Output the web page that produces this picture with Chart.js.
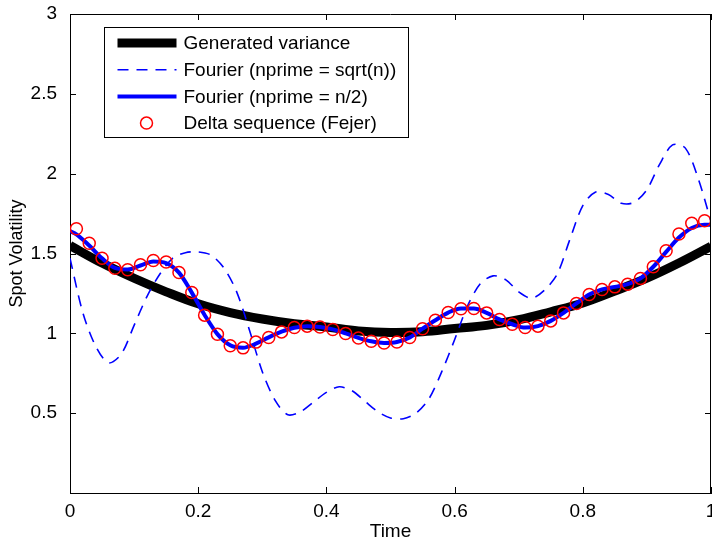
<!DOCTYPE html>
<html lang="en">
<head>
    <meta charset="UTF-8">
    <title>Spot Volatility</title>
    <script src="https://cdn.jsdelivr.net/npm/chart.js"></script>
    <style>
        html, body {
            margin: 0;
            padding: 0;
            background: #ffffff;
        }
        #chartContainer {
            width: 712px;
            height: 541px;
        }
    </style>
</head>
<body>
    <div id="chartContainer">
        <canvas id="myChart" width="712" height="541"></canvas>
    </div>

    <script>
        // generated variance (thick black curve)
        const tVariance = [0, 0.05, 0.1, 0.15, 0.2, 0.25, 0.3, 0.35, 0.4, 0.45, 0.5,
                           0.55, 0.6, 0.65, 0.7, 0.75, 0.8, 0.85, 0.9, 0.95, 1];
        const variance = [1.55, 1.44, 1.345, 1.26, 1.185, 1.13, 1.09, 1.06, 1.04, 1.015, 1.005,
                          1.01, 1.03, 1.05, 1.085, 1.135, 1.19, 1.265, 1.345, 1.44, 1.545];

        // Fourier, nprime = sqrt(n) (dashed)
        const tFourierSqrt = [0, 0.02, 0.04, 0.06, 0.08, 0.1, 0.12, 0.14, 0.16, 0.18, 0.2,
                              0.22, 0.24, 0.26, 0.28, 0.3, 0.32, 0.34, 0.36, 0.38, 0.4,
                              0.42, 0.44, 0.46, 0.48, 0.5, 0.52, 0.54, 0.56, 0.58, 0.6,
                              0.62, 0.64, 0.66, 0.68, 0.7, 0.72, 0.74, 0.76, 0.78, 0.8,
                              0.82, 0.84, 0.86, 0.88, 0.9, 0.92, 0.94, 0.96, 0.98, 1];
        const fourierSqrt = [1.47, 1.13, 0.92, 0.815, 0.87, 1.05, 1.23, 1.37, 1.47, 1.505, 1.51,
                             1.49, 1.41, 1.26, 1.02, 0.76, 0.58, 0.49, 0.51, 0.57, 0.63,
                             0.665, 0.64, 0.575, 0.51, 0.47, 0.465, 0.5, 0.59, 0.76, 0.96,
                             1.17, 1.31, 1.36, 1.335, 1.26, 1.22, 1.27, 1.37, 1.59, 1.8,
                             1.885, 1.87, 1.815, 1.82, 1.9, 2.06, 2.18, 2.16, 1.97, 1.7];

        // Fourier, nprime = n/2 (solid blue)
        const tFourierHalf = [0, 0.01, 0.03, 0.05, 0.07, 0.09, 0.11, 0.13, 0.15, 0.17, 0.19,
                              0.21, 0.23, 0.25, 0.27, 0.29, 0.31, 0.33, 0.35, 0.37, 0.39,
                              0.41, 0.43, 0.45, 0.47, 0.49, 0.51, 0.53, 0.55, 0.57, 0.59,
                              0.61, 0.63, 0.65, 0.67, 0.69, 0.71, 0.73, 0.75, 0.77, 0.79,
                              0.81, 0.83, 0.85, 0.87, 0.89, 0.91, 0.93, 0.95, 0.97, 0.99, 1];
        const fourierHalf = [1.64, 1.62, 1.55, 1.47, 1.41, 1.40, 1.425, 1.45, 1.44, 1.38, 1.255,
                             1.115, 0.995, 0.925, 0.91, 0.935, 0.975, 1.01, 1.035, 1.045, 1.04,
                             1.025, 1.0, 0.972, 0.95, 0.94, 0.946, 0.974, 1.029, 1.082, 1.13,
                             1.155, 1.155, 1.128, 1.087, 1.057, 1.036, 1.045, 1.078, 1.128, 1.187,
                             1.243, 1.275, 1.291, 1.308, 1.344, 1.417, 1.51, 1.6, 1.66, 1.68, 1.68];

        // Delta sequence (Fejer) markers
        const tDelta = [0.01, 0.03, 0.05, 0.07, 0.09, 0.11, 0.13, 0.15, 0.17, 0.19,
                        0.21, 0.23, 0.25, 0.27, 0.29, 0.31, 0.33, 0.35, 0.37, 0.39,
                        0.41, 0.43, 0.45, 0.47, 0.49, 0.51, 0.53, 0.55, 0.57, 0.59,
                        0.61, 0.63, 0.65, 0.67, 0.69, 0.71, 0.73, 0.75, 0.77, 0.79,
                        0.81, 0.83, 0.85, 0.87, 0.89, 0.91, 0.93, 0.95, 0.97, 0.99];
        const deltaFejer = [1.655, 1.564, 1.47, 1.407, 1.398, 1.43, 1.456, 1.447, 1.381, 1.256,
                            1.114, 0.994, 0.922, 0.909, 0.945, 0.974, 1.009, 1.036, 1.045, 1.04,
                            1.024, 0.999, 0.971, 0.95, 0.94, 0.946, 0.974, 1.029, 1.082, 1.13,
                            1.154, 1.156, 1.128, 1.087, 1.057, 1.036, 1.045, 1.078, 1.128, 1.187,
                            1.243, 1.275, 1.291, 1.308, 1.344, 1.417, 1.517, 1.622, 1.689, 1.705];

        const xTicks = [0, 0.2, 0.4, 0.6, 0.8, 1];
        const yTicks = [0.5, 1, 1.5, 2, 2.5, 3];

        const FONT = 'Liberation Sans, Arial, Helvetica, sans-serif';

        function pts(xs, ys) {
            return xs.map((x, i) => ({ x: x, y: ys[i] }));
        }

        // box round the plot, inward tick marks, and the legend box
        const matlabAxes = {
            id: 'matlabAxes',
            afterDraw(chart) {
                const ctx = chart.ctx;
                const a = chart.chartArea;
                const sx = chart.scales.x, sy = chart.scales.y;
                const len = 6;
                ctx.save();
                ctx.strokeStyle = '#000';
                ctx.lineWidth = 1;
                ctx.beginPath();
                ctx.moveTo(a.left, a.top + 0.5);
                ctx.lineTo(a.right, a.top + 0.5);
                ctx.moveTo(a.right - 0.5, a.top);
                ctx.lineTo(a.right - 0.5, a.bottom);
                xTicks.forEach(v => {
                    const px = Math.round(sx.getPixelForValue(v)) + 0.5;
                    ctx.moveTo(px, a.bottom);
                    ctx.lineTo(px, a.bottom - len);
                    ctx.moveTo(px, a.top);
                    ctx.lineTo(px, a.top + len);
                });
                yTicks.forEach(v => {
                    const py = Math.round(sy.getPixelForValue(v)) + 0.5;
                    ctx.moveTo(a.left, py);
                    ctx.lineTo(a.left + len, py);
                    ctx.moveTo(a.right, py);
                    ctx.lineTo(a.right - len, py);
                });
                ctx.stroke();

                // legend
                const bx = Math.round(a.left + 34) + 0.5;
                const by = Math.round(a.top + 13) + 0.5;
                const bw = 304, bh = 110;
                ctx.fillStyle = '#fff';
                ctx.fillRect(bx, by, bw, bh);
                ctx.strokeRect(bx, by, bw, bh);
                ctx.font = '19px ' + FONT;
                ctx.textBaseline = 'middle';
                ctx.textAlign = 'left';
                chart.data.datasets.forEach((ds, i) => {
                    const ry = by + 15.5 + i * 26.7;
                    if (ds.showLine === false) {
                        ctx.beginPath();
                        ctx.arc(bx + 42, ry, ds.pointRadius, 0, Math.PI * 2);
                        ctx.lineWidth = ds.pointBorderWidth;
                        ctx.strokeStyle = ds.pointBorderColor;
                        ctx.setLineDash([]);
                        ctx.stroke();
                    } else {
                        ctx.beginPath();
                        ctx.moveTo(bx + 13, ry);
                        ctx.lineTo(bx + 72, ry);
                        ctx.lineWidth = ds.borderWidth;
                        ctx.strokeStyle = ds.borderColor;
                        ctx.setLineDash(ds.borderDash || []);
                        ctx.stroke();
                    }
                    ctx.setLineDash([]);
                    ctx.fillStyle = '#000';
                    ctx.fillText(ds.label, bx + 79, ry + 1);
                });
                ctx.restore();
            }
        };

        const ctx = document.getElementById('myChart').getContext('2d');
        const myChart = new Chart(ctx, {
            type: 'scatter',
            data: {
                datasets: [{
                    label: 'Generated variance',
                    data: pts(tVariance, variance),
                    showLine: true,
                    borderColor: '#000000',
                    borderWidth: 9,
                    pointRadius: 0,
                    tension: 0.4,
                    clip: 0,
                    order: 4
                }, {
                    label: 'Fourier (nprime = sqrt(n))',
                    data: pts(tFourierSqrt, fourierSqrt),
                    showLine: true,
                    borderColor: '#0000ff',
                    borderWidth: 1.6,
                    borderDash: [11, 8],
                    pointRadius: 0,
                    tension: 0.3,
                    clip: 0,
                    order: 3
                }, {
                    label: 'Fourier (nprime = n/2)',
                    data: pts(tFourierHalf, fourierHalf),
                    showLine: true,
                    borderColor: '#0000ff',
                    borderWidth: 4,
                    pointRadius: 0,
                    cubicInterpolationMode: 'monotone',
                    clip: 0,
                    order: 2
                }, {
                    label: 'Delta sequence (Fejer)',
                    data: pts(tDelta, deltaFejer),
                    showLine: false,
                    pointStyle: 'circle',
                    pointRadius: 6,
                    pointBorderWidth: 1.5,
                    pointBorderColor: '#ff0000',
                    pointBackgroundColor: 'rgba(0,0,0,0)',
                    order: 1
                }]
            },
            options: {
                responsive: false,
                animation: false,
                maintainAspectRatio: false,
                layout: {
                    autoPadding: false,
                    padding: { top: 14, right: 1, left: 0, bottom: 0 }
                },
                plugins: {
                    legend: { display: false },
                    tooltip: { enabled: false }
                },
                scales: {
                    x: {
                        type: 'linear',
                        min: 0,
                        max: 1,
                        afterBuildTicks: s => { s.ticks = xTicks.map(v => ({ value: v })); },
                        afterFit: s => {
                            s.height = 48;
                            s.paddingLeft = 0;
                            s.paddingRight = 0;
                        },
                        grid: { display: false, drawTicks: false },
                        border: { display: true, color: '#000', width: 1 },
                        ticks: {
                            color: '#000',
                            font: { family: FONT, size: 19 },
                            padding: 7,
                            maxRotation: 0,
                            callback: v => String(v)
                        },
                        title: {
                            display: true,
                            text: 'Time',
                            color: '#000',
                            font: { family: FONT, size: 19, lineHeight: 1 },
                            padding: { top: 0, bottom: 0 }
                        }
                    },
                    y: {
                        type: 'linear',
                        min: 0,
                        max: 3,
                        afterBuildTicks: s => { s.ticks = yTicks.map(v => ({ value: v })); },
                        afterFit: s => {
                            s.width = 70;
                            s.paddingTop = 0;
                            s.paddingBottom = 0;
                        },
                        grid: { display: false, drawTicks: false },
                        border: { display: true, color: '#000', width: 1 },
                        ticks: {
                            color: '#000',
                            font: { family: FONT, size: 19 },
                            padding: 13,
                            callback: v => String(v)
                        },
                        title: {
                            display: true,
                            text: 'Spot Volatility',
                            color: '#000',
                            font: { family: FONT, size: 18 },
                            padding: { top: 6, bottom: 0 }
                        }
                    }
                }
            },
            plugins: [matlabAxes]
        });
    </script>
</body>
</html>
